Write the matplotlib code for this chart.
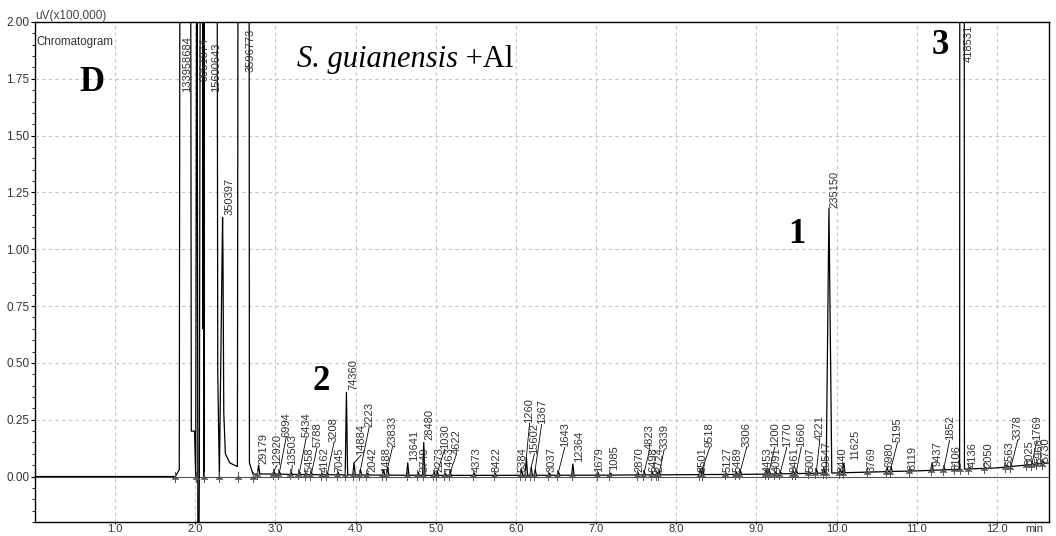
import numpy as np
import matplotlib
matplotlib.use("Agg")
import matplotlib.pyplot as plt
from matplotlib.path import Path
from matplotlib.ticker import MultipleLocator, FixedLocator

plt.rcParams['font.family'] = ['Liberation Sans', 'DejaVu Sans']

# Solvent front region (1.7 - 2.75 min), trace points
# values above 2.0 / below -0.2 are off scale in the original
solvent_t = [0.00, 1.75, 1.80, 1.81, 1.94, 1.95, 1.99, 2.005, 2.02, 2.035, 2.05,
             2.065, 2.09, 2.095, 2.105, 2.11, 2.115, 2.27, 2.28, 2.30, 2.34,
             2.345, 2.355, 2.375, 2.43, 2.525, 2.535, 2.67, 2.675, 2.72]
solvent_y = [0.00, 0.00, 0.03, 3.0, 3.0, 0.20, 0.20, 0.00, 3.0, -1.0, 0.00,
             3.0, 3.0, 0.65, 3.0, 0.00, 3.0, 3.0, 0.45, 0.00, 1.14,
             0.97, 0.28, 0.10, 0.06, 0.044, 3.0, 3.0, 0.06, 0.01]
solvent_labels = ["133958684", "9951874", "15600643", "350397", "3596773"]
solvent_lab_t = [1.90, 2.12, 2.257, 2.43, 2.694]
solvent_lab_y = [1.69, 1.74, 1.69, 1.15, 1.78]
solvent_marks = [1.75, 2.006, 2.11, 2.30, 2.53, 2.72]

# baseline drift after the solvent front
base_t = [2.72, 3.5, 5.0, 7.0, 9.0, 10.0, 11.0, 12.0, 12.5, 12.65]
base_y = [0.012, 0.008, 0.005, 0.006, 0.010, 0.016, 0.025, 0.038, 0.055, 0.06]

# peaks: apex time, apex height, half width, area label, label x, label bottom y
pk_label = ["29179", "12920", "6994", "13503", "5434", "5458", "5788", "4162",
            "3208", "7045", "74360", "14884", "2223", "2042", "1488", "23833",
            "13641", "3749", "28480", "2273", "1030", "1463", "4622", "4373",
            "8422", "5384", "1260", "15602", "1367", "3037", "1643", "12364",
            "1679", "1085", "2870", "4823", "6498", "2724", "3339", "8501",
            "9518", "5127", "5489", "3306", "4453", "1200", "4091", "1770",
            "9461", "1660", "5007", "4221", "10547", "235150", "8440", "11625",
            "3769", "6980", "5195", "6119", "9437", "1852", "8106", "418531",
            "4136", "2050", "5563", "3378", "8025", "1769", "5966", "5730"]
pk_t = [2.79, 2.98, 3.05, 3.20, 3.30, 3.38, 3.45, 3.58,
        3.65, 3.78, 3.885, 3.98, 4.06, 4.15, 4.35, 4.40,
        4.65, 4.78, 4.85, 4.98, 5.02, 5.12, 5.18, 5.48,
        5.74, 6.07, 6.13, 6.19, 6.24, 6.42, 6.53, 6.71,
        7.02, 7.18, 7.52, 7.60, 7.70, 7.76, 7.79, 8.30,
        8.33, 8.62, 8.75, 8.80, 9.12, 9.16, 9.24, 9.30,
        9.46, 9.50, 9.66, 9.75, 9.84, 9.905, 10.05, 10.09,
        10.40, 10.63, 10.68, 10.92, 11.19, 11.34, 11.48, 11.565,
        11.66, 11.86, 12.12, 12.18, 12.38, 12.44, 12.50, 12.58]
pk_h = [0.05, 0.025, 0.02, 0.015, 0.02, 0.015, 0.015, 0.015,
        0.015, 0.02, 0.37, 0.06, 0.03, 0.015, 0.03, 0.04,
        0.06, 0.02, 0.15, 0.02, 0.02, 0.015, 0.02, 0.015,
        0.015, 0.03, 0.085, 0.04, 0.03, 0.015, 0.02, 0.055,
        0.02, 0.015, 0.02, 0.02, 0.02, 0.02, 0.02, 0.035,
        0.04, 0.015, 0.02, 0.025, 0.03, 0.025, 0.02, 0.02,
        0.025, 0.025, 0.02, 0.03, 0.04, 1.18, 0.03, 0.06,
        0.02, 0.04, 0.04, 0.03, 0.06, 0.04, 0.03, 30.0,
        0.04, 0.04, 0.05, 0.05, 0.05, 0.06, 0.06, 0.065]
pk_w = [0.015] * len(pk_t)
pk_w[pk_label.index("235150")] = 0.035
pk_w[pk_label.index("418531")] = 0.03
lab_t = [2.85, 3.02, 3.135, 3.21, 3.385, 3.42, 3.52, 3.61,
         3.73, 3.80, 3.975, 4.07, 4.17, 4.21, 4.38, 4.46,
         4.73, 4.86, 4.92, 5.045, 5.11, 5.16, 5.26, 5.51,
         5.76, 6.08, 6.17, 6.23, 6.32, 6.44, 6.61, 6.79,
         7.04, 7.23, 7.54, 7.67, 7.72, 7.79, 7.85, 8.33,
         8.42, 8.64, 8.77, 8.88, 9.14, 9.23, 9.25, 9.38,
         9.48, 9.56, 9.68, 9.79, 9.875, 9.975, 10.08, 10.23,
         10.44, 10.66, 10.76, 10.94, 11.26, 11.41, 11.50, 11.65,
         11.70, 11.89, 12.16, 12.26, 12.41, 12.50, 12.53, 12.61]
lab_y = [0.055, 0.05, 0.175, 0.05, 0.175, 0.02, 0.13, 0.02,
         0.15, 0.02, 0.38, 0.095, 0.22, 0.02, 0.02, 0.13,
         0.07, 0.02, 0.16, 0.02, 0.12, 0.02, 0.10, 0.02,
         0.02, 0.02, 0.235, 0.10, 0.23, 0.02, 0.13, 0.065,
         0.02, 0.03, 0.02, 0.12, 0.02, 0.02, 0.12, 0.02,
         0.13, 0.02, 0.02, 0.13, 0.02, 0.13, 0.02, 0.13,
         0.02, 0.13, 0.02, 0.16, 0.02, 1.18, 0.02, 0.075,
         0.02, 0.04, 0.15, 0.03, 0.045, 0.16, 0.03, 1.825,
         0.04, 0.04, 0.045, 0.16, 0.05, 0.16, 0.06, 0.065]

x_ticks = [1.0, 2.0, 3.0, 4.0, 5.0, 6.0, 7.0, 8.0, 9.0, 10.0, 11.0, 12.0]
y_ticks = [0.00, 0.25, 0.50, 0.75, 1.00, 1.25, 1.50, 1.75, 2.00]

# build the trace
pts = list(zip(solvent_t, solvent_y))
pts += [(t, y) for t, y in zip(base_t, base_y) if t > solvent_t[-1]]
for t, h, w in zip(pk_t, pk_h, pk_w):
    pts.append((t - w, float(np.interp(t - w, base_t, base_y))))
    pts.append((t, h))
    pts.append((t + w, float(np.interp(t + w, base_t, base_y))))
pts.sort()
tr_t = [p[0] for p in pts]
tr_y = [p[1] for p in pts]

fig = plt.figure(figsize=(10.56, 5.36), dpi=100)
ax = fig.add_axes([35 / 1056, 14 / 536, 1014 / 1056, 500 / 536])
ax.set_xlim(0, 12.65)
ax.set_ylim(-0.2, 2.0)

for gx in x_ticks:
    ax.axvline(gx, color='#c4c4c4', lw=0.8, ls=(0, (3, 3)), zorder=0)
for gy in y_ticks[1:-1]:
    ax.axhline(gy, color='#c4c4c4', lw=0.8, ls=(0, (3, 3)), zorder=0)
ax.axhline(0, color='#555555', lw=0.8, zorder=1)

ax.plot(tr_t, tr_y, color='black', lw=0.9, zorder=3)

# integration marks
mark = Path([(0, -1), (0, 1), (-0.6, -0.4), (0, 0.2), (0.6, -0.4)],
            [Path.MOVETO, Path.LINETO, Path.MOVETO, Path.LINETO, Path.LINETO])
mark_t = solvent_marks + [t - w for t, w in zip(pk_t, pk_w)]
mark_y = [0.0] * len(solvent_marks) + [float(np.interp(t - w, base_t, base_y))
                                        for t, w in zip(pk_t, pk_w)]
ax.plot(mark_t, mark_y, ls='none', marker=mark, ms=8, mew=0.7,
        color='#555555', zorder=4)

lab_kw = dict(rotation=90, ha='center', va='bottom', fontsize=8,
              color='#333333', zorder=5)
for s, x, y in zip(solvent_labels, solvent_lab_t, solvent_lab_y):
    ax.text(x, y, s, **lab_kw)
for s, t, h, x, y in zip(pk_label, pk_t, pk_h, lab_t, lab_y):
    if h < 2 and y - h > 0.02:
        ax.plot([t, x], [h, y], color='black', lw=0.6, zorder=4)
    ax.text(x, y, s, **lab_kw)

# axes styling
for sp in ax.spines.values():
    sp.set_color('black')
    sp.set_linewidth(1.0)
ax.xaxis.set_major_locator(FixedLocator(x_ticks))
ax.set_xticklabels(["%.1f" % v for v in x_ticks])
ax.yaxis.set_major_locator(FixedLocator(y_ticks))
ax.set_yticklabels(["%.2f" % v for v in y_ticks])
ax.yaxis.set_minor_locator(MultipleLocator(0.05))
ax.tick_params(axis='y', which='major', length=3, width=0.8,
               labelsize=8.5, labelcolor='#333333', pad=1)
ax.tick_params(axis='x', which='major', length=1.5, width=0.8,
               labelsize=8, labelcolor='#333333', pad=0)
ax.tick_params(axis='y', which='minor', length=2, width=0.6)

ax.text(0.0, 1.0, "uV(x100,000)", transform=ax.transAxes, ha='left',
        va='bottom', fontsize=8.5, color='#444444')
ax.text(0.0015, 0.96, "Chromatogram", transform=ax.transAxes, ha='left',
        va='center', fontsize=8.3, color='#333333')
ax.text(0.985, -0.004, "min", transform=ax.transAxes, ha='center',
        va='top', fontsize=8, color='#333333')

serif = ['Liberation Serif', 'DejaVu Serif']
ax.text(0.713, 1.732, "D", fontsize=25, fontweight='bold', family=serif,
        ha='center', va='center')
ax.text(9.50, 1.063, "1", fontsize=25, fontweight='bold', family=serif,
        ha='center', va='center')
ax.text(3.572, 0.417, "2", fontsize=25, fontweight='bold', family=serif,
        ha='center', va='center')
ax.text(11.29, 1.895, "3", fontsize=25, fontweight='bold', family=serif,
        ha='center', va='center')
t1 = ax.text(3.27, 1.833, "S. guianensis", fontsize=22, style='italic',
             family=serif, ha='left', va='center')
ax.annotate(" +Al", xy=(1, 0), xycoords=t1, ha='left', va='bottom',
            fontsize=22, family=serif)

fig.savefig("out.png", dpi=100)
